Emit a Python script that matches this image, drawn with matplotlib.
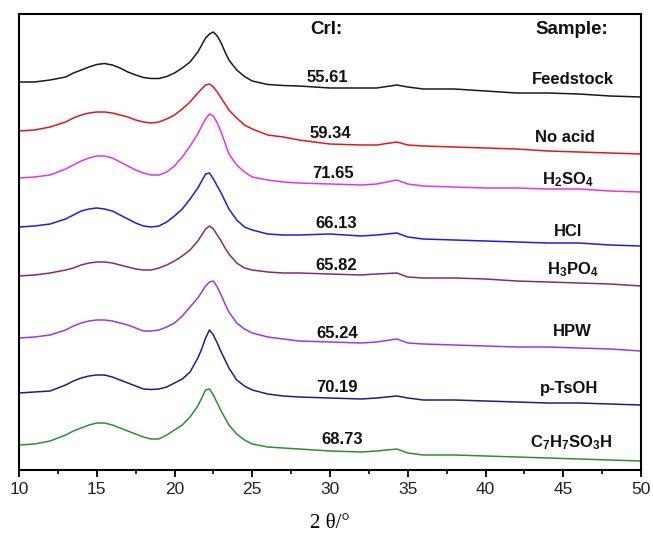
import matplotlib
matplotlib.use("Agg")
import matplotlib.pyplot as plt
from matplotlib.ticker import MultipleLocator

plt.rcParams['font.family'] = ['Liberation Sans', 'DejaVu Sans']
plt.rcParams['mathtext.fontset'] = 'custom'
plt.rcParams['mathtext.rm'] = 'Liberation Sans:bold'
plt.rcParams['mathtext.bf'] = 'Liberation Sans:bold'
plt.rcParams['mathtext.it'] = 'Liberation Sans:bold'

# 2-theta sample points (degrees)
two_theta = [10, 11, 12, 13, 13.5, 14, 14.5, 15, 15.5, 16, 16.5, 17, 17.5, 18, 18.5, 19,
             19.5, 20, 20.5, 21, 21.5, 21.75, 22, 22.25, 22.5, 22.75, 23, 23.25, 23.5,
             24, 24.5, 25, 26, 27, 28, 30, 32, 33, 34.3, 35, 36, 38, 40, 42, 44, 46, 48, 50]

# stacked intensities (a.u., vertical offsets included as in the figure)
feedstock = [388, 388, 390, 393, 397, 400, 403, 405.5, 406.5, 405, 402, 398, 395, 392.5, 391.5,
             391.5, 393.5, 397, 402, 408, 418, 425, 432, 436, 438, 434, 427, 418, 410, 400,
             393.5, 389, 385.5, 384.5, 384, 382, 382, 382, 385, 383, 381, 381, 379, 377, 377,
             376, 374, 373]
no_acid = [339, 340, 343, 348, 352, 355, 357, 358, 358, 357, 355, 353, 350, 348, 347, 348,
           351, 355, 361, 368, 377, 381, 385, 386, 383, 378, 372, 366, 360, 352, 345, 341,
           335, 333, 330, 326, 325, 325, 328, 325, 324, 323, 322, 321, 319, 318, 317, 316]
h2so4 = [292, 293, 295, 301, 305, 309, 312, 314, 314, 312, 308, 304, 300, 297, 295, 295,
         298, 304, 313, 324, 336, 344, 351, 356, 354, 347, 338, 327, 316, 305, 298, 293,
         290, 288, 287, 286, 285, 286, 290, 286, 284, 283, 282, 282, 281, 281, 279, 278]
hcl = [243, 244, 246, 251, 255, 259, 261, 262, 261, 259, 255, 251, 247, 244, 243, 244,
       248, 254, 261, 271, 282, 289, 296, 297, 291, 284, 277, 269, 261, 250, 243, 240,
       236, 235, 235, 236, 234, 235, 237, 233, 231, 230, 229, 228, 227, 227, 225, 224]
h3po4 = [194, 195, 197, 200, 202, 205, 207, 208, 208, 207, 205, 203, 201, 200, 200, 202,
         205, 209, 214, 220, 229, 235, 241, 244, 241, 235, 229, 222, 216, 207, 202, 200,
         198, 197, 197, 196, 195, 196, 197, 193, 192, 192, 191, 189, 188, 187, 186, 184]
hpw = [132, 133, 135, 140, 144, 147, 149, 150, 150, 149, 147, 145, 142, 139, 139, 140,
       143, 147, 154, 163, 172, 178, 184, 188, 189, 183, 175, 166, 158, 147, 141, 137,
       133, 131, 129, 128, 127, 128, 131, 127, 126, 125, 124, 123, 123, 122, 121, 119]
ptsoh = [77, 78, 79, 85, 89, 92, 94, 95, 95, 93, 90, 87, 84, 81, 80.5, 81,
         83, 87, 91, 98, 112, 121, 132, 140, 135, 127, 118, 110, 102, 90, 84, 80,
         76, 74, 73, 72, 71, 72, 74, 72, 70, 70, 69, 68, 67, 67, 66, 65]
c7h7so3h = [25, 26, 29, 35, 39, 42, 45, 47, 47, 45, 42, 39, 36, 33, 31, 31,
            35, 40, 45, 53, 64, 72, 80, 81, 75, 67, 59, 52, 45, 36, 30, 26,
            23, 22, 21, 19, 18, 19, 21, 17, 15, 15, 14, 13, 12, 11, 10, 9]

series = [feedstock, no_acid, h2so4, hcl, h3po4, hpw, ptsoh, c7h7so3h]
colors = ['#1a1a1a', '#e8141c', '#e633e6', '#1c1cf0', '#8a2a6e', '#9a36f0', '#1e1e86', '#2e8f32']

sample_names = ['Feedstock', 'No acid', r'H$_\mathbf{2}$SO$_\mathbf{4}$', 'HCl',
                r'H$_\mathbf{3}$PO$_\mathbf{4}$', 'HPW', 'p-TsOH',
                r'C$_\mathbf{7}$H$_\mathbf{7}$SO$_\mathbf{3}$H']
crl_values = ['55.61', '59.34', '71.65', '66.13', '65.82', '65.24', '70.19', '68.73']

crl_pos = [(29.8, 392), (30.0, 337), (30.2, 297), (30.4, 246), (30.4, 205),
           (30.45, 137), (30.45, 83), (30.8, 30)]
name_pos = [(45.6, 391), (45.1, 332), (45.3, 290), (45.3, 238), (45.6, 200),
            (45.6, 138), (45.4, 82), (45.5, 27)]

fig = plt.figure(figsize=(6.53, 5.36), dpi=100)
ax = fig.add_axes([19/653, 66/536, 622/653, 456/536])

for ys, c in zip(series, colors):
    ax.plot(two_theta, ys, color=c, lw=1.1, solid_joinstyle='round')

for (x, y), t in zip(crl_pos, crl_values):
    ax.text(x, y, t, ha='center', va='center', fontsize=12, fontweight='bold', color='#111111')
for (x, y), t in zip(name_pos, sample_names):
    ax.text(x, y, t, ha='center', va='center', fontsize=12, fontweight='bold', color='#111111')

ax.text(29.75, 441, 'CrI:', ha='center', va='center', fontsize=13.5, fontweight='bold', color='#111111')
ax.text(45.55, 440, 'Sample:', ha='center', va='center', fontsize=13.5, fontweight='bold', color='#111111')

ax.set_xlim(10, 50)
ax.set_ylim(0, 456)
ax.set_yticks([])
ax.xaxis.set_major_locator(MultipleLocator(5))
ax.xaxis.set_minor_locator(MultipleLocator(2.5))
ax.tick_params(axis='x', which='major', direction='out', length=5, width=1.3, labelsize=12.5,
               pad=4, labelcolor='#222222')
ax.tick_params(axis='x', which='minor', direction='out', length=3, width=1.2)
for s in ax.spines.values():
    s.set_linewidth(1.5)

ax.set_xlabel('2 θ/°', fontsize=15, family=['Liberation Serif', 'DejaVu Serif'], labelpad=12)

fig.savefig('out.png', dpi=100)
